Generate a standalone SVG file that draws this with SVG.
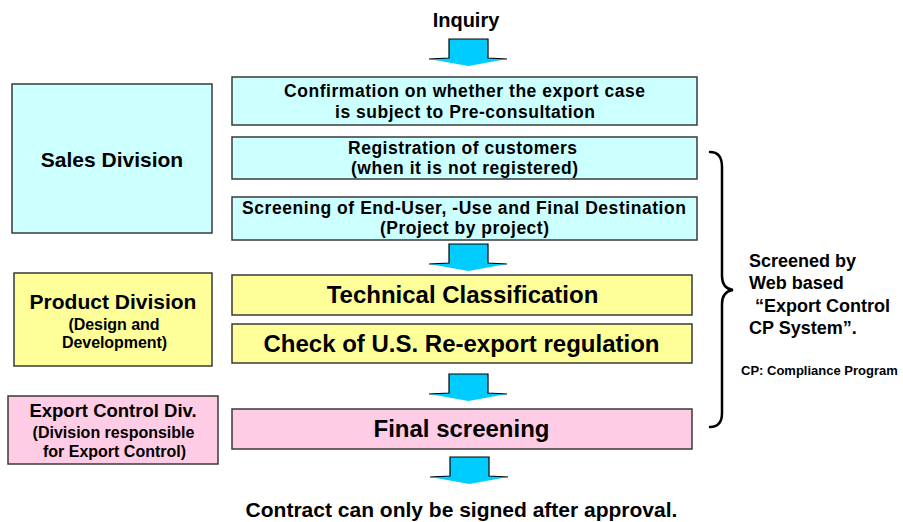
<svg xmlns="http://www.w3.org/2000/svg" width="903" height="522" viewBox="0 0 903 522">
<style>
text { font-family: "Liberation Sans", Arial, sans-serif; font-weight: bold; fill: #000; text-anchor: middle; }
.box { stroke: #3a3a3a; stroke-width: 1.5; }
.cyan { fill: #CCFFFF; }
.yellow { fill: #FFFF99; }
.pink { fill: #FFCCE6; }
.arrowFill { fill: #00CCFF; stroke: none; }
.arrowLine { fill: none; stroke: #000; stroke-width: 1.2; stroke-linejoin: miter; }
.brace { fill: none; stroke: #000; stroke-width: 2.5; stroke-linecap: round; }
.s18 { font-size: 17.5px; }
.s24 { font-size: 24px; }
.s16 { font-size: 16px; }
.side { font-size: 18px; text-anchor: start; }
</style>
<defs>
  <g id="blockArrow">
    <polygon class="arrowFill" points="0,0 39,0 39,19 58,20 19.5,27 -20,20 0,19"/>
    <polyline class="arrowLine" points="-20,20 0,19 0,0 39,0 39,19 58,20"/>
  </g>
</defs>

<g id="inquiry"><text x="466" y="27" style="font-size:20px">Inquiry</text></g>

<g id="connectors">
  <use href="#blockArrow" x="449" y="39"/>
  <use href="#blockArrow" x="449" y="244"/>
  <use href="#blockArrow" x="449" y="374"/>
  <use href="#blockArrow" x="450" y="457"/>
</g>

<g id="sales-division">
  <rect class="box cyan" x="12" y="84" width="200" height="149"/>
  <text x="112" y="167" style="font-size:21px">Sales Division</text>
</g>

<g id="product-division">
  <rect class="box yellow" x="14" y="273" width="198" height="93"/>
  <text x="113" y="309" style="font-size:21px">Product Division</text>
  <text class="s16" x="114" y="330" textLength="91" lengthAdjust="spacing">(Design and</text>
  <text class="s16" x="114.5" y="348" textLength="105" lengthAdjust="spacing">Development)</text>
</g>

<g id="export-control-div">
  <rect class="box pink" x="8" y="396" width="210" height="68"/>
  <text x="113" y="417" style="font-size:18.5px">Export Control Div.</text>
  <text class="s16" x="113.5" y="438">(Division responsible</text>
  <text class="s16" x="114.5" y="457">for Export Control)</text>
</g>

<g id="confirmation">
  <rect class="box cyan" x="232" y="77" width="465" height="48"/>
  <text class="s18" x="464.5" y="97" textLength="361" lengthAdjust="spacing">Confirmation on whether the export case</text>
  <text class="s18" x="465" y="118" textLength="260" lengthAdjust="spacing">is subject to Pre-consultation</text>
</g>

<g id="registration">
  <rect class="box cyan" x="232" y="137" width="465" height="42"/>
  <text class="s18" x="462.5" y="154" textLength="229" lengthAdjust="spacing">Registration of customers</text>
  <text class="s18" x="464.5" y="174" textLength="227" lengthAdjust="spacing">(when it is not registered)</text>
</g>

<g id="screening">
  <rect class="box cyan" x="232" y="197" width="465" height="43"/>
  <text class="s18" x="464" y="214" textLength="444" lengthAdjust="spacing">Screening of End-User, -Use and Final Destination</text>
  <text class="s18" x="464.5" y="234" textLength="169" lengthAdjust="spacing">(Project by project)</text>
</g>

<g id="technical-classification">
  <rect class="box yellow" x="232" y="275" width="460" height="40"/>
  <text class="s24" x="462.5" y="303">Technical Classification</text>
</g>

<g id="us-reexport-check">
  <rect class="box yellow" x="232" y="324" width="460" height="39"/>
  <text class="s24" x="461.5" y="352">Check of U.S. Re-export regulation</text>
</g>

<g id="final-screening">
  <rect class="box pink" x="232" y="409" width="460" height="40"/>
  <text class="s24" x="461.5" y="437">Final screening</text>
</g>

<g id="web-system-brace">
  <path class="brace" d="M710,152 C718,152 722,157 722,167 L722,276 C722,285 726,289 733,290 C726,291 722,295 722,304 L722,413 C722,422 718,427 710,427"/>
  <text class="side" x="749" y="267">Screened by</text>
  <text class="side" x="749" y="289">Web based</text>
  <text class="side" x="755" y="312">“Export Control</text>
  <text class="side" x="749" y="334">CP System”.</text>
  <text x="741" y="375" style="font-size:13px;text-anchor:start">CP: Compliance Program</text>
</g>

<g id="contract">
  <text x="461.5" y="517" style="font-size:21px">Contract can only be signed after approval.</text>
</g>
</svg>
